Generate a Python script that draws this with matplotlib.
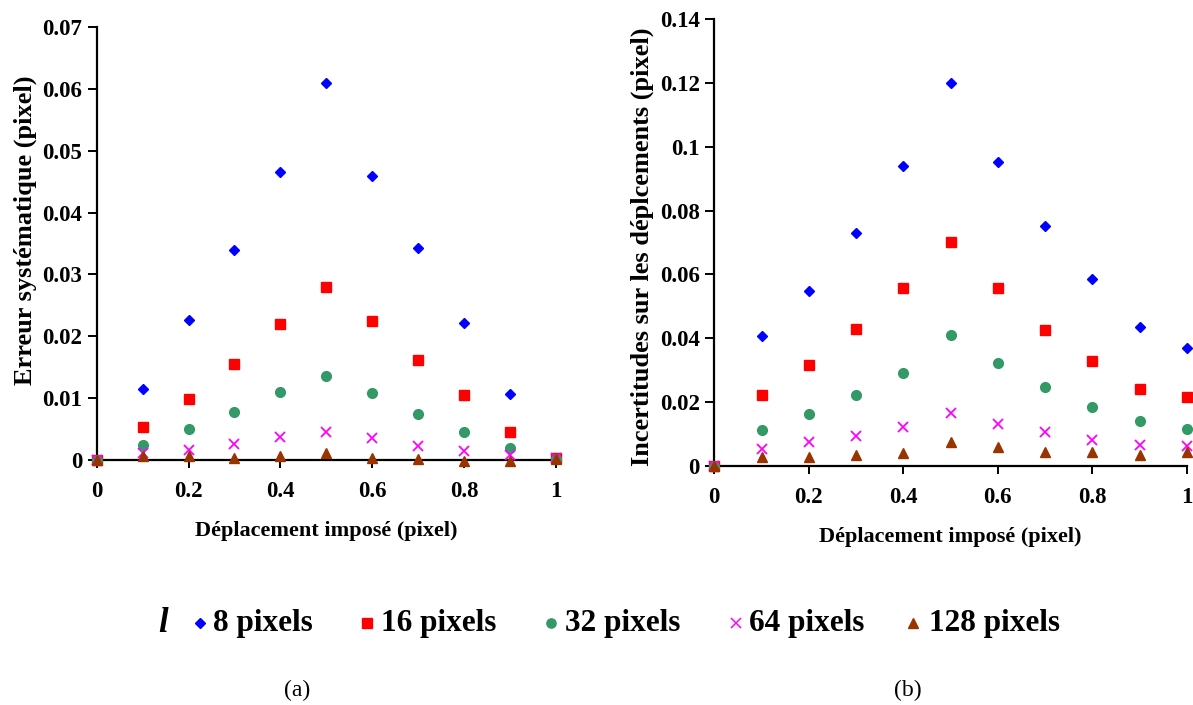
import matplotlib
matplotlib.use("Agg")
import matplotlib.pyplot as plt
from matplotlib.lines import Line2D

plt.rcParams['font.family'] = ['Liberation Serif', 'DejaVu Serif']

x = [0, 0.1, 0.2, 0.3, 0.4, 0.5, 0.6, 0.7, 0.8, 0.9, 1.0]

# (a) Erreur systématique
err_8 = [0, 0.0114, 0.0226, 0.0339, 0.0465, 0.0610, 0.0459, 0.0342, 0.0221, 0.0107, 0.0003]
err_16 = [0, 0.0053, 0.0099, 0.0156, 0.0220, 0.0279, 0.0224, 0.0161, 0.0105, 0.0045, 0.0004]
err_32 = [0, 0.0025, 0.0050, 0.0078, 0.0110, 0.0136, 0.0108, 0.0075, 0.0046, 0.0020, 0.0002]
err_64 = [0, 0.0012, 0.0016, 0.0026, 0.0038, 0.0045, 0.0035, 0.0022, 0.0014, 0.0008, 0.0003]
err_128 = [0, 0.0006, 0.0007, 0.0004, 0.0007, 0.0011, 0.0003, 0.0001, -0.0002, -0.0001, 0.0001]

# (b) Incertitudes
inc_8 = [0, 0.0407, 0.0549, 0.0731, 0.0941, 0.1200, 0.0953, 0.0751, 0.0585, 0.0436, 0.0371]
inc_16 = [0, 0.0222, 0.0315, 0.0429, 0.0558, 0.0701, 0.0559, 0.0426, 0.0329, 0.0240, 0.0216]
inc_32 = [0, 0.0113, 0.0164, 0.0222, 0.0292, 0.0411, 0.0322, 0.0247, 0.0184, 0.0142, 0.0116]
inc_64 = [0, 0.0053, 0.0075, 0.0094, 0.0122, 0.0167, 0.0133, 0.0107, 0.0082, 0.0066, 0.0063]
inc_128 = [0, 0.0028, 0.0028, 0.0034, 0.0041, 0.0076, 0.0061, 0.0045, 0.0044, 0.0036, 0.0044]

labels = ['8 pixels', '16 pixels', '32 pixels', '64 pixels', '128 pixels']
colors = ['#0000FF', '#FF0000', '#339966', '#FF00FF', '#993300']
markers = ['D', 's', 'o', 'x', '^']
msizes = [5.5, 7.0, 7.0, 7.0, 7.5]

x_ticks = [0, 0.2, 0.4, 0.6, 0.8, 1]
x_ticklabels = ['0', '0.2', '0.4', '0.6', '0.8', '1']
ya_ticks = [0, 0.01, 0.02, 0.03, 0.04, 0.05, 0.06, 0.07]
ya_ticklabels = ['0', '0.01', '0.02', '0.03', '0.04', '0.05', '0.06', '0.07']
yb_ticks = [0, 0.02, 0.04, 0.06, 0.08, 0.1, 0.12, 0.14]
yb_ticklabels = ['0', '0.02', '0.04', '0.06', '0.08', '0.1', '0.12', '0.14']

fig = plt.figure(figsize=(11.93, 7.05), dpi=100)
axa = fig.add_axes([0.0811, 0.3475, 0.3847, 0.6142])
axb = fig.add_axes([0.5987, 0.339, 0.3962, 0.634])

def style(ax, yt, ytl, ymax, ylabel, label_y):
    ax.set_xlim(0, 1)
    ax.set_ylim(0, ymax)
    ax.set_xticks(x_ticks)
    ax.set_xticklabels(x_ticklabels)
    ax.set_yticks(yt)
    ax.set_yticklabels(ytl)
    for s in ['top', 'right']:
        ax.spines[s].set_visible(False)
    for s in ['left', 'bottom']:
        ax.spines[s].set_linewidth(1.6)
        ax.spines[s].set_color('black')
    ax.spines['bottom'].set_position(('data', 0))
    ax.tick_params(axis='both', direction='out', length=6.5, width=1.4,
                   labelsize=16.5, pad=4)
    ax.tick_params(axis='x', length=6, pad=9)
    for t in ax.get_xticklabels() + ax.get_yticklabels():
        t.set_fontweight('bold')
    ax.set_xlabel('Déplacement imposé (pixel)', fontsize=16, fontweight='bold', labelpad=14)
    ax.set_ylabel(ylabel, fontsize=19, fontweight='bold', labelpad=4)
    ax.yaxis.label.set_y(label_y)

series_a = [err_8, err_16, err_32, err_64, err_128]
series_b = [inc_8, inc_16, inc_32, inc_64, inc_128]
for ys, c, m, ms in zip(series_a, colors, markers, msizes):
    kw = dict(color=c, marker=m, markersize=ms, linestyle='none', clip_on=False, zorder=3)
    if m == 'x':
        kw['markeredgewidth'] = 1.3
    axa.plot(x, ys, **kw)
for ys, c, m, ms in zip(series_b, colors, markers, msizes):
    kw = dict(color=c, marker=m, markersize=ms, linestyle='none', clip_on=False, zorder=3)
    if m == 'x':
        kw['markeredgewidth'] = 1.3
    axb.plot(x, ys, **kw)

style(axa, ya_ticks, ya_ticklabels, 0.07, 'Erreur systématique (pixel)', 0.53)
style(axb, yb_ticks, yb_ticklabels, 0.14, 'Incertitudes sur les déplcements (pixel)', 0.49)

# Legend drawn manually in figure coordinates
W, H = 1193.0, 705.0
leg_y = 1 - 623 / H
marker_px = [200, 367, 551, 736, 913]
text_px = [213, 381, 565, 749, 929]
for mx, tx, c, m, ms, lab in zip(marker_px, text_px, colors, markers, msizes, labels):
    fig.add_artist(Line2D([mx / W], [leg_y], transform=fig.transFigure, color=c, marker=m,
                          markersize=ms * 0.95, linestyle='none',
                          markeredgewidth=1.1 if m == 'x' else 1.0))
    fig.text(tx / W, leg_y, lab, fontsize=22.5, fontweight='bold', ha='left', va='center')
fig.text(163 / W, leg_y, 'l', fontsize=25, fontweight='bold', style='italic',
         ha='center', va='center')

fig.text(297 / W, 1 - 690 / H, '(a)', fontsize=17, ha='center', va='center')
fig.text(908 / W, 1 - 690 / H, '(b)', fontsize=17, ha='center', va='center')

fig.savefig('out.png', dpi=100)
